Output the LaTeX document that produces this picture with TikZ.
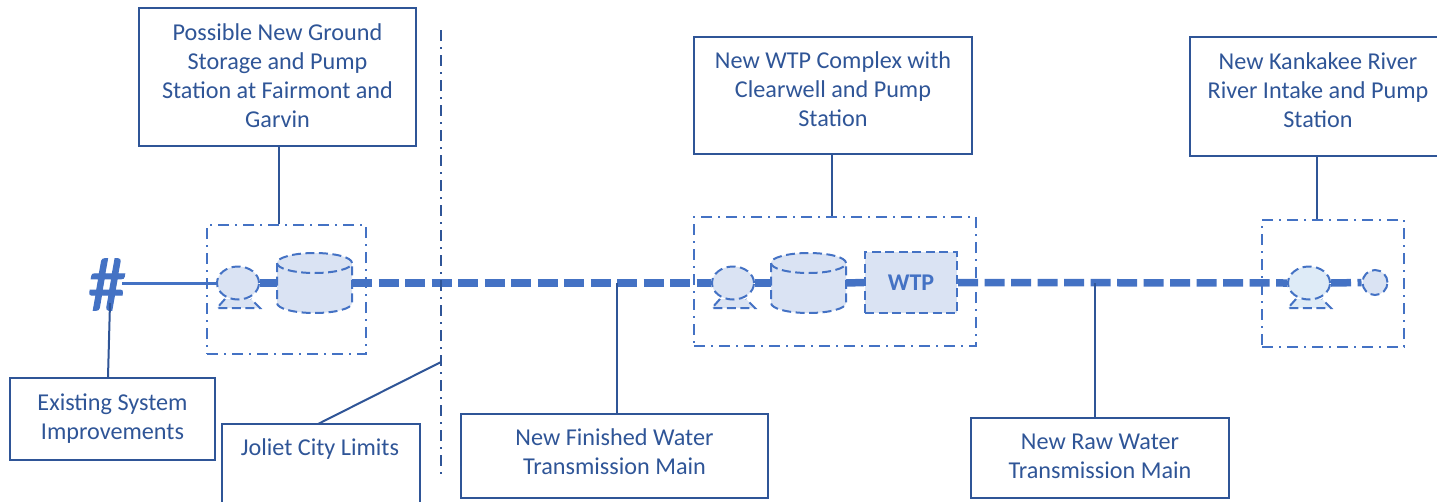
\documentclass[tikz,border=0pt]{standalone}
\usepackage{fontspec}
\setmainfont{Carlito}
\newfontfamily\hashfont{Carlito}[FakeBold=1.6]
\usepackage{xcolor}
\usetikzlibrary{positioning,shapes.geometric}
\definecolor{linedark}{HTML}{2F5597}
\definecolor{pipeblue}{HTML}{4472C4}
\definecolor{paleblue}{HTML}{DAE3F3}
\definecolor{palesky}{HTML}{DEEBF7}

\tikzset{
labelbox/.style={draw=linedark, line width=2pt, inner sep=0pt},
labeltext/.style={text=linedark, align=center, inner sep=0pt, font=\fontsize{24.2}{29}\selectfont},
leader/.style={draw=linedark, line width=2pt},
zonebox/.style={draw=pipeblue, line width=2pt, dash pattern=on 11pt off 6pt on 2pt off 6pt},
equip/.style={draw=pipeblue, line width=2pt, fill=paleblue, dash pattern=on 9pt off 4.5pt},
pumpbody/.style={equip, ellipse, minimum width=42pt, minimum height=33pt, inner sep=0pt},
pipesolid/.style={draw=pipeblue, line width=7.5pt},
pipedash/.style={draw=pipeblue, line width=7.5pt, dash pattern=on 20pt off 6.5pt}
}

\begin{document}
\begin{tikzpicture}[x=1pt, y=-1pt]
\useasboundingbox (0,0) rectangle (1437,501);

% boxes with the labels
\node[labelbox, minimum width=277pt, minimum height=138pt] (ground) at (277.5,77) {};
\node[labelbox, minimum width=278pt, minimum height=117pt] (complex) at (833,95.5) {};
\node[labelbox, minimum width=256pt, minimum height=119pt] (intake) at (1318,96.5) {};
\node[labelbox, minimum width=205pt, minimum height=82pt] (existing) at (112.5,419) {};
\node[labelbox, minimum width=198pt, minimum height=90pt] (limits) at (321,469) {};
\node[labelbox, minimum width=307pt, minimum height=84pt] (finished) at (614.5,456) {};
\node[labelbox, minimum width=258pt, minimum height=80pt] (raw) at (1100,458) {};

\node[labeltext] (groundtext) at (277.5,76) {Possible New Ground\\Storage and Pump\\Station at Fairmont and\\Garvin};
\node[labeltext] (complextext) at (833,89.5) {New WTP Complex with\\Clearwell and Pump\\Station};
\node[labeltext] (intaketext) at (1318,90) {New Kankakee River\\River Intake and Pump\\Station};
\node[labeltext] (existingtext) at (112.5,419) {Existing System\\Improvements};
\node[labeltext] (limitstext) at (320,449) {Joliet City Limits};
\node[labeltext] (finishedtext) at (614.5,452) {New Finished Water\\Transmission Main};
\node[labeltext] (rawtext) at (1100,456) {New Raw Water\\Transmission Main};

% dash dot outlines
\node[zonebox, minimum width=159pt, minimum height=129pt] (zonea) at (286.5,289.5) {};
\node[zonebox, minimum width=282pt, minimum height=129pt] (zoneb) at (835,281.5) {};
\node[zonebox, minimum width=142pt, minimum height=127pt] (zonec) at (1333,283.5) {};

% pumps
\foreach \name/\x/\col in {pumpa/238/paleblue, pumpb/733/paleblue, pumpc/1309/palesky}
{
\draw[equip, fill=\col] (\x-13,299) -- (\x-21,308) -- (\x+22,308) -- (\x+13,299);
\node[pumpbody, fill=\col] (\name) at (\x,283) {};
}

% tanks
\foreach \name/\x in {tanka/314.5, tankb/808.5}
{
\node[minimum width=75pt, minimum height=61pt, inner sep=0pt] (\name) at (\x,283) {};
\draw[equip] (\x-37.5,263) -- (\x-37.5,303) arc[start angle=180, end angle=360, x radius=37.5pt, y radius=10pt] -- (\x+37.5,263);
\draw[equip] (\x,263) ellipse [x radius=37.5pt, y radius=10pt];
}

\node[equip, minimum width=92pt, minimum height=61pt, inner sep=0pt, text=pipeblue, font=\fontsize{24}{25}\selectfont\bfseries] (wtp) at (911,282.5) {WTP};
\node[equip, circle, minimum size=25pt, inner sep=0pt] (river) at (1375,282.5) {};
\node[text=pipeblue, font=\fontsize{76}{80}\hashfont, inner sep=0pt] (hash) at (107,284.5) {\#};
\coordinate (hashend) at (122,283);

% pipes
\draw[draw=pipeblue, line width=3pt] (hashend) -- (pumpa.west);
\draw[pipesolid] (pumpa.east) -- (tanka.west);
\draw[pipedash] (tanka.east) -- (pumpb.west);
\draw[pipesolid] (pumpb.east) -- (tankb.west);
\draw[pipesolid] (tankb.east) -- (wtp.west);
\draw[pipedash] (wtp.east) -- (pumpc.west);
\draw[pipedash] (pumpc.east) -- (river.west);

\coordinate (tapfin) at (617,283);
\coordinate (tapraw) at (1095,283);
\coordinate (limittop) at (441,30);
\coordinate (limitend) at (441,475);
\coordinate (limitmark) at (441,362);
\coordinate (limitfoot) at (318,424);
\coordinate (hashfoot) at (110,303);

\draw[draw=linedark, line width=2pt, dash pattern=on 11pt off 6pt on 2pt off 6pt] (limittop) -- (limitend);

% leaders
\draw[leader] (ground.south -| 279,0) -- (zonea.north -| 279,0);
\draw[leader] (complex.south -| 832,0) -- (zoneb.north -| 832,0);
\draw[leader] (intake.south -| 1317,0) -- (zonec.north -| 1317,0);
\draw[leader] (hashfoot) -- (existing.north -| 108,0);
\draw[leader] (limitfoot) -- (limitmark);
\draw[leader] (tapfin) -- (tapfin |- finished.north);
\draw[leader] (tapraw) -- (tapraw |- raw.north);
\end{tikzpicture}
\end{document}
